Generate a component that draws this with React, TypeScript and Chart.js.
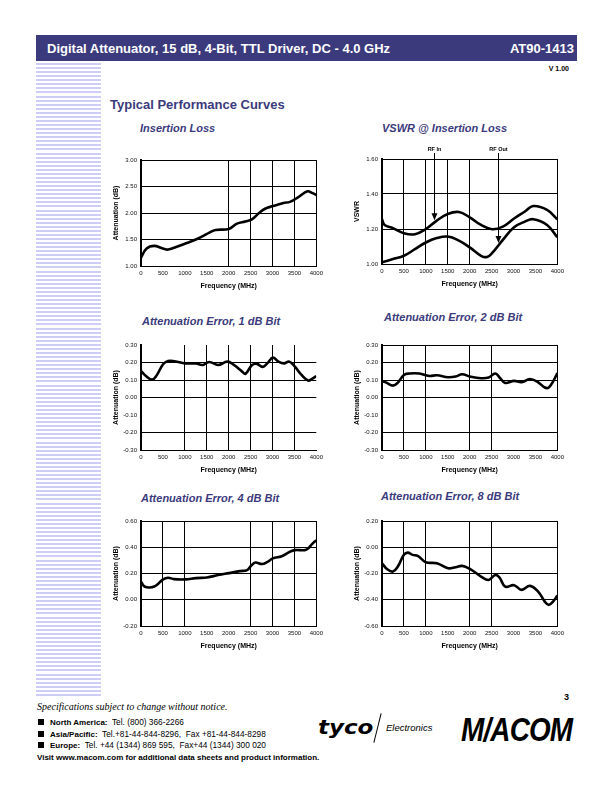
import React, { useEffect, useRef } from "react";
import { Chart, registerables } from "chart.js";
Chart.register(...registerables);

const FONT = '"Liberation Sans", Arial, Helvetica, sans-serif';
const NAVY = "#3b3a7c";

// ---------- data ----------
const FREQ_MIN = 0;
const FREQ_MAX = 4000;
const FREQ_STEP = 500;

// Insertion Loss
const IL_FREQ = [0, 128, 300, 500, 617, 800, 1000, 1250, 1400, 1560, 1700, 2000, 2190, 2380, 2530, 2680, 2830, 3010, 3250, 3400, 3590, 3800, 3900, 4000];
const IL_DB = [1.16, 1.33, 1.38, 1.33, 1.31, 1.36, 1.42, 1.5, 1.56, 1.63, 1.68, 1.7, 1.8, 1.84, 1.88, 1.99, 2.08, 2.13, 2.19, 2.21, 2.3, 2.41, 2.38, 2.34];

// VSWR @ Insertion Loss
const VSWR_IN_FREQ = [0, 60, 250, 500, 750, 1000, 1250, 1500, 1755, 2000, 2260, 2510, 2757, 3013, 3260, 3450, 3766, 4000];
const VSWR_IN = [1.256, 1.223, 1.205, 1.176, 1.17, 1.2, 1.248, 1.286, 1.297, 1.267, 1.223, 1.199, 1.214, 1.26, 1.3, 1.331, 1.309, 1.256];
const VSWR_OUT_FREQ = [0, 250, 500, 750, 1000, 1250, 1500, 1755, 2000, 2260, 2395, 2510, 2757, 3013, 3260, 3450, 3766, 4000];
const VSWR_OUT = [1.01, 1.028, 1.047, 1.085, 1.123, 1.148, 1.157, 1.134, 1.095, 1.047, 1.04, 1.062, 1.138, 1.21, 1.242, 1.256, 1.223, 1.153];
const VSWR_MARKERS = [
  { label: "RF In", freq: 1190, vswr: 1.25 },
  { label: "RF Out", freq: 2640, vswr: 1.12 },
];

// Attenuation Error, 1 dB Bit
const AE1_FREQ = [0, 128, 256, 353, 504, 617, 767, 1008, 1256, 1406, 1556, 1759, 1970, 2120, 2308, 2383, 2534, 2647, 2774, 2887, 3008, 3135, 3263, 3383, 3511, 3662, 3812, 3902, 4000];
const AE1_DB = [0.152, 0.12, 0.102, 0.125, 0.19, 0.209, 0.207, 0.195, 0.194, 0.186, 0.203, 0.186, 0.205, 0.186, 0.148, 0.135, 0.186, 0.192, 0.175, 0.197, 0.228, 0.205, 0.195, 0.205, 0.176, 0.129, 0.097, 0.106, 0.123];

// Attenuation Error, 2 dB Bit
const AE2_FREQ = [0, 98, 250, 362, 500, 625, 851, 1077, 1250, 1507, 1680, 1830, 2004, 2260, 2433, 2584, 2697, 2810, 3013, 3186, 3375, 3563, 3714, 3804, 3902, 4000];
const AE2_DB = [0.095, 0.085, 0.068, 0.085, 0.129, 0.137, 0.137, 0.123, 0.127, 0.116, 0.12, 0.133, 0.12, 0.11, 0.114, 0.137, 0.11, 0.083, 0.095, 0.087, 0.106, 0.087, 0.057, 0.057, 0.091, 0.139];

// Attenuation Error, 4 dB Bit
const AE4_FREQ = [0, 90, 256, 353, 504, 617, 752, 1008, 1256, 1504, 1759, 2008, 2256, 2421, 2511, 2609, 2759, 2887, 3008, 3211, 3398, 3511, 3737, 3812, 3902, 4000];
const AE4_DB = [0.137, 0.099, 0.096, 0.11, 0.155, 0.168, 0.157, 0.155, 0.165, 0.17, 0.188, 0.203, 0.218, 0.226, 0.259, 0.284, 0.272, 0.289, 0.315, 0.332, 0.366, 0.378, 0.378, 0.39, 0.424, 0.454];

// Attenuation Error, 8 dB Bit
const AE8_FREQ = [0, 120, 250, 362, 500, 588, 700, 814, 1000, 1250, 1507, 1680, 1830, 2004, 2260, 2433, 2584, 2682, 2810, 3013, 3186, 3375, 3563, 3714, 3804, 3902, 4000];
const AE8_DB = [-0.122, -0.168, -0.185, -0.147, -0.058, -0.041, -0.058, -0.066, -0.114, -0.122, -0.16, -0.152, -0.142, -0.165, -0.223, -0.249, -0.211, -0.231, -0.3, -0.289, -0.325, -0.294, -0.338, -0.414, -0.439, -0.414, -0.368];

// visible gridlines (as they appear in the printed sheet)
const IL_XGRID = [2000, 2500, 3000, 3500, 4000];
const IL_YGRID = [1.5, 2.0, 2.5, 3.0];
const VSWR_XGRID = [500, 1000, 1500, 2000, 4000];
const VSWR_YGRID = [1.2, 1.4, 1.6];
const AE1_XGRID = [1000, 1500, 2000, 2500, 3000, 3500];
const AE1_YGRID = [0.2, 0.1, 0.0, -0.2];
const AE2_XGRID = [500, 1000, 2000, 2500, 4000];
const AE2_YGRID = [0.3, 0.2, 0.1, 0.0, -0.2];
const AE4_XGRID = [500, 1000, 2500, 3000, 3500, 4000];
const AE4_YGRID = [0.6, 0.4, 0.2, 0.0];
const AE8_XGRID = [500, 1000, 2000, 2500, 4000];
const AE8_YGRID = [0.2, 0.0, -0.2, -0.4];

// ---------- chart ----------
type Series = { x: number[]; y: number[] };
type Marker = { label: string; freq: number; vswr: number };
type Spec = {
  plot: [number, number, number, number];
  yMin: number;
  yMax: number;
  yStep: number;
  yTitle: string;
  xGrid: number[];
  yGrid: number[];
  series: Series[];
  markers?: Marker[];
};

const YW = 29;
const XH = 24;
const PT = 16;
const PR = 9;

function gridColor(vals: number[]) {
  return (c: any) =>
    c.tick && vals.some((v) => Math.abs(v - c.tick.value) < 1e-6) ? "#000" : "rgba(0,0,0,0)";
}

function markerPlugin(markers: Marker[]) {
  return {
    id: "markers",
    afterDatasetsDraw(chart: any) {
      const { ctx, chartArea, scales } = chart;
      ctx.save();
      ctx.strokeStyle = "#000";
      ctx.fillStyle = "#000";
      ctx.lineWidth = 1;
      ctx.font = `bold 5.5px ${FONT}`;
      ctx.textAlign = "center";
      ctx.textBaseline = "middle";
      for (const m of markers) {
        const px = Math.round(scales.x.getPixelForValue(m.freq)) + 0.5;
        const py = scales.y.getPixelForValue(m.vswr);
        ctx.fillText(m.label, px, chartArea.top - 10);
        ctx.beginPath();
        ctx.moveTo(px, chartArea.top - 6);
        ctx.lineTo(px, py - 5);
        ctx.stroke();
        ctx.beginPath();
        ctx.moveTo(px - 3, py - 7);
        ctx.lineTo(px + 3, py - 7);
        ctx.lineTo(px, py);
        ctx.closePath();
        ctx.fill();
      }
      ctx.restore();
    },
  };
}

function PerfChart({ spec }: { spec: Spec }) {
  const ref = useRef<HTMLCanvasElement>(null);
  const [l, t, r, b] = spec.plot;
  const w = r - l + YW + PR;
  const h = b - t + PT + XH;
  useEffect(() => {
    const chart = new Chart(ref.current as HTMLCanvasElement, {
      type: "line",
      data: {
        datasets: spec.series.map((s) => ({
          data: s.x.map((x, i) => ({ x, y: s.y[i] })),
          borderColor: "#000",
          borderWidth: 2.6,
          pointRadius: 0,
          tension: 0.4,
          fill: false,
        })),
      },
      options: {
        animation: false,
        responsive: false,
        devicePixelRatio: 1,
        events: [],
        layout: { padding: { top: PT, right: PR, left: 0, bottom: 0 } },
        plugins: { legend: { display: false }, tooltip: { enabled: false } },
        scales: {
          x: {
            type: "linear",
            min: FREQ_MIN,
            max: FREQ_MAX,
            afterFit: (s: any) => {
              s.height = XH;
            },
            grid: { drawTicks: false, color: gridColor(spec.xGrid), lineWidth: 1 },
            border: { display: true, color: "#000", width: 1 },
            ticks: {
              stepSize: FREQ_STEP,
              padding: 4,
              maxRotation: 0,
              autoSkip: false,
              color: "#111",
              font: { size: 6, family: FONT },
              callback: (v: any) => String(v),
            },
            title: {
              display: true,
              text: "Frequency (MHz)",
              color: "#000",
              padding: 0,
              font: { size: 7, weight: "bold", family: FONT },
            },
          },
          y: {
            type: "linear",
            min: spec.yMin,
            max: spec.yMax,
            afterFit: (s: any) => {
              s.width = YW;
            },
            grid: { drawTicks: false, color: gridColor(spec.yGrid), lineWidth: 1 },
            border: { display: true, color: "#000", width: 2 },
            ticks: {
              stepSize: spec.yStep,
              padding: 4,
              color: "#111",
              font: { size: 6, family: FONT },
              callback: (v: any) => Number(v).toFixed(2),
            },
            title: {
              display: true,
              text: spec.yTitle,
              color: "#000",
              padding: 0,
              font: { size: 7, weight: "bold", family: FONT },
            },
          },
        },
      } as any,
      plugins: spec.markers ? [markerPlugin(spec.markers)] : [],
    });
    return () => chart.destroy();
  }, []);
  return (
    <canvas
      ref={ref}
      width={w}
      height={h}
      style={{ position: "absolute", left: l - YW, top: t - PT, width: w, height: h }}
    />
  );
}

const SPECS: Spec[] = [
  { plot: [141, 160, 318, 266], yMin: 1, yMax: 3, yStep: 0.5, yTitle: "Attenuation (dB)", xGrid: IL_XGRID, yGrid: IL_YGRID, series: [{ x: IL_FREQ, y: IL_DB }] },
  {
    plot: [382, 159, 559, 264], yMin: 1, yMax: 1.6, yStep: 0.2, yTitle: "VSWR", xGrid: VSWR_XGRID, yGrid: VSWR_YGRID,
    series: [{ x: VSWR_IN_FREQ, y: VSWR_IN }, { x: VSWR_OUT_FREQ, y: VSWR_OUT }], markers: VSWR_MARKERS,
  },
  { plot: [141, 345, 318, 450], yMin: -0.3, yMax: 0.3, yStep: 0.1, yTitle: "Attenuation (dB)", xGrid: AE1_XGRID, yGrid: AE1_YGRID, series: [{ x: AE1_FREQ, y: AE1_DB }] },
  { plot: [382, 345, 559, 450], yMin: -0.3, yMax: 0.3, yStep: 0.1, yTitle: "Attenuation (dB)", xGrid: AE2_XGRID, yGrid: AE2_YGRID, series: [{ x: AE2_FREQ, y: AE2_DB }] },
  { plot: [141, 521, 318, 626], yMin: -0.2, yMax: 0.6, yStep: 0.2, yTitle: "Attenuation (dB)", xGrid: AE4_XGRID, yGrid: AE4_YGRID, series: [{ x: AE4_FREQ, y: AE4_DB }] },
  { plot: [382, 521, 559, 626], yMin: -0.6, yMax: 0.2, yStep: 0.2, yTitle: "Attenuation (dB)", xGrid: AE8_XGRID, yGrid: AE8_YGRID, series: [{ x: AE8_FREQ, y: AE8_DB }] },
];

const CHART_TITLES = [
  { text: "Insertion Loss", left: 140, cy: 128 },
  { text: "VSWR @ Insertion Loss", left: 382, cy: 128 },
  { text: "Attenuation Error, 1 dB Bit", left: 142, cy: 321 },
  { text: "Attenuation Error, 2 dB Bit", left: 384, cy: 317 },
  { text: "Attenuation Error, 4 dB Bit", left: 141, cy: 498 },
  { text: "Attenuation Error, 8 dB Bit", left: 381, cy: 496 },
];

const CONTACTS = [
  { label: "North America:", text: "Tel. (800) 366-2266", cy: 722 },
  { label: "Asia/Pacific:", text: "Tel.+81-44-844-8296,  Fax +81-44-844-8298", cy: 734 },
  { label: "Europe:", text: "Tel. +44 (1344) 869 595,  Fax+44 (1344) 300 020", cy: 745 },
];

function Txt(props: { left?: number; right?: number; cy: number; size: number; style?: any; children: any }) {
  const { left, right, cy, size, style, children } = props;
  return (
    <div
      style={{
        position: "absolute",
        left,
        right,
        top: cy - size / 2,
        fontSize: size,
        lineHeight: `${size}px`,
        whiteSpace: "pre",
        ...style,
      }}
    >
      {children}
    </div>
  );
}

export default function App() {
  const stripes: number[] = [];
  for (let y = 63; y < 697; y += 4.07) stripes.push(Math.round(y));
  return (
    <div
      style={{
        position: "absolute",
        left: 0,
        top: 0,
        width: 612,
        height: 792,
        background: "#fff",
        overflow: "hidden",
        fontFamily: FONT,
        color: "#000",
      }}
    >
      {/* header */}
      <div style={{ position: "absolute", left: 36, top: 35, width: 541, height: 26, background: NAVY }} />
      <Txt left={47} cy={48} size={13} style={{ color: "#fff", fontWeight: "bold" }}>
        Digital Attenuator, 15 dB, 4-Bit, TTL Driver, DC - 4.0 GHz
      </Txt>
      <Txt right={38} cy={48} size={13} style={{ color: "#fff", fontWeight: "bold" }}>
        AT90-1413
      </Txt>
      <Txt right={43} cy={68} size={7} style={{ fontWeight: "bold" }}>
        V 1.00
      </Txt>

      {/* side stripes */}
      {stripes.map((y, i) => (
        <div key={i} style={{ position: "absolute", left: 36, top: y, width: 65, height: 2, background: "#cdcdf6" }} />
      ))}

      <Txt left={110} cy={104} size={13} style={{ color: NAVY, fontWeight: "bold" }}>
        Typical Performance Curves
      </Txt>

      {CHART_TITLES.map((c, i) => (
        <Txt key={i} left={c.left} cy={c.cy} size={11} style={{ color: NAVY, fontWeight: "bold", fontStyle: "italic" }}>
          {c.text}
        </Txt>
      ))}

      {SPECS.map((s, i) => (
        <PerfChart key={i} spec={s} />
      ))}

      {/* footer */}
      <Txt right={43} cy={697} size={9} style={{ fontWeight: "bold" }}>
        3
      </Txt>
      <Txt left={37} cy={707} size={10} style={{ fontFamily: '"Liberation Serif", "Times New Roman", serif', fontStyle: "italic" }}>
        Specifications subject to change without notice.
      </Txt>
      {CONTACTS.map((c, i) => (
        <React.Fragment key={i}>
          <div style={{ position: "absolute", left: 38, top: c.cy - 3, width: 6, height: 6, background: "#000" }} />
          <Txt left={50} cy={c.cy} size={8}>
            <span style={{ fontWeight: "bold" }}>{c.label}</span>
            <span style={{ fontSize: 8.3 }}>{"  " + c.text}</span>
          </Txt>
        </React.Fragment>
      ))}
      <Txt left={37} cy={758} size={8} style={{ fontWeight: "bold" }}>
        Visit www.macom.com for additional data sheets and product information.
      </Txt>

      {/* logos */}
      <Txt left={318} cy={727} size={20} style={{ fontFamily: '"DejaVu Sans", sans-serif', fontWeight: "bold", fontStyle: "italic", transform: "scaleX(1.15)", transformOrigin: "left center" }}>
        tyco
      </Txt>
      <div style={{ position: "absolute", left: 377, top: 713, width: 1, height: 30, background: "#000", transform: "rotate(14deg)" }} />
      <Txt left={386} cy={728} size={9.5} style={{ fontStyle: "italic" }}>
        Electronics
      </Txt>
      <Txt left={461} cy={729} size={34} style={{ fontWeight: "bold", fontStyle: "italic", transform: "scaleX(0.82)", transformOrigin: "left center", letterSpacing: -1 }}>
        M/ACOM
      </Txt>
    </div>
  );
}
